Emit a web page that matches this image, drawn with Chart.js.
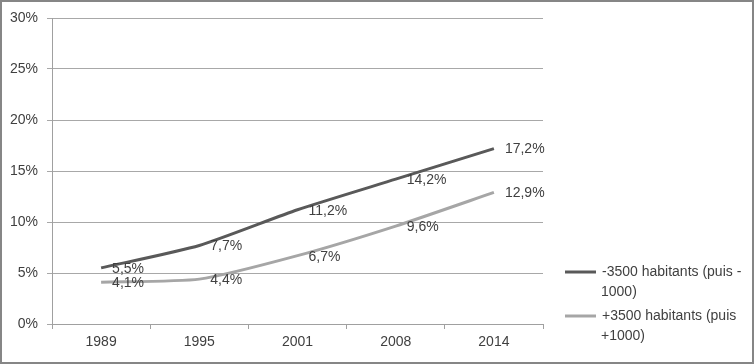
<!DOCTYPE html>
<html><head><meta charset="utf-8">
<script src="https://cdn.jsdelivr.net/npm/chart.js@4/dist/chart.umd.min.js"></script>
<style>html,body{margin:0;padding:0;background:#fff}#wrap{width:754px;height:364px;position:relative}</style>
</head><body><div id="wrap"><canvas id="c" width="754" height="364"></canvas></div>
<script>
const categories = ["1989", "1995", "2001", "2008", "2014"];
const seriesNames = ["-3500 habitants (puis -1000)", "+3500 habitants (puis +1000)"];
const legendLines = [["-3500 habitants (puis -", "1000)"], ["+3500 habitants (puis", "+1000)"]];
const smallTowns = [5.5, 7.7, 11.2, 14.2, 17.2];
const largeTowns = [4.1, 4.4, 6.7, 9.6, 12.9];
const seriesColors = ["#595959", "#a6a6a6"];
const yTicks = [0, 5, 10, 15, 20, 25, 30];

const FONT = "'Liberation Sans', sans-serif";
const TXT = "#404040";
const fmt = v => v.toFixed(1).replace('.', ',') + '%';

const labelsPlugin = {
  id: 'dl',
  afterDatasetsDraw(chart) {
    const ctx = chart.ctx;
    ctx.save();
    ctx.font = "14px " + FONT;
    ctx.fillStyle = TXT;
    ctx.textAlign = 'left';
    ctx.textBaseline = 'middle';
    chart.data.datasets.forEach((ds, i) => {
      chart.getDatasetMeta(i).data.forEach((pt, j) => {
        ctx.fillText(fmt(ds.data[j]), pt.x + 11, pt.y + 1);
      });
    });
    ctx.restore();
  }
};

const legendPlugin = {
  id: 'lg',
  afterDraw(chart) {
    const ctx = chart.ctx;
    ctx.save();
    ctx.font = "14px " + FONT;
    ctx.fillStyle = TXT;
    ctx.textBaseline = 'middle';
    const x0 = 565, ys = [272, 316];
    legendLines.forEach((lines, i) => {
      ctx.strokeStyle = seriesColors[i];
      ctx.lineWidth = 3;
      ctx.beginPath(); ctx.moveTo(x0, ys[i]); ctx.lineTo(x0 + 31, ys[i]); ctx.stroke();
      lines.forEach((t, k) => ctx.fillText(t, x0 + (k === 0 ? 37 : 36), ys[i] + k * 20));
    });
    ctx.strokeStyle = '#868686';
    ctx.lineWidth = 2;
    ctx.strokeRect(1, 1, 752, 362);
    ctx.restore();
  }
};

new Chart(document.getElementById('c'), {
  type: 'line',
  data: {
    labels: categories,
    datasets: [
      { label: seriesNames[0], data: smallTowns, borderColor: seriesColors[0], borderWidth: 3, pointRadius: 0, tension: 0.2, fill: false },
      { label: seriesNames[1], data: largeTowns, borderColor: seriesColors[1], borderWidth: 3, pointRadius: 0, tension: 0.2, fill: false }
    ]
  },
  options: {
    responsive: false,
    animation: false,
    devicePixelRatio: 1,
    layout: { padding: { left: 0, right: 211, top: 18, bottom: 0 } },
    plugins: { legend: { display: false }, tooltip: { enabled: false } },
    scales: {
      x: {
        offset: true,
        grid: { offset: true, drawOnChartArea: false, drawTicks: true, tickLength: 5, color: '#a0a0a0' },
        border: { color: '#a0a0a0' },
        ticks: { color: TXT, font: { family: FONT, size: 14 }, padding: 5, maxRotation: 0 },
        afterFit(s) { s.height = 40; }
      },
      y: {
        min: 0, max: 30,
        afterBuildTicks(s) { s.ticks = yTicks.map(v => ({ value: v })); },
        grid: { color: '#a8a8a8', tickLength: 5 },
        border: { color: '#a0a0a0' },
        ticks: { color: TXT, font: { family: FONT, size: 14 }, padding: 9, callback: v => v + '%' },
        afterFit(s) { s.width = 52; }
      }
    }
  },
  plugins: [labelsPlugin, legendPlugin]
});
</script></body></html>
